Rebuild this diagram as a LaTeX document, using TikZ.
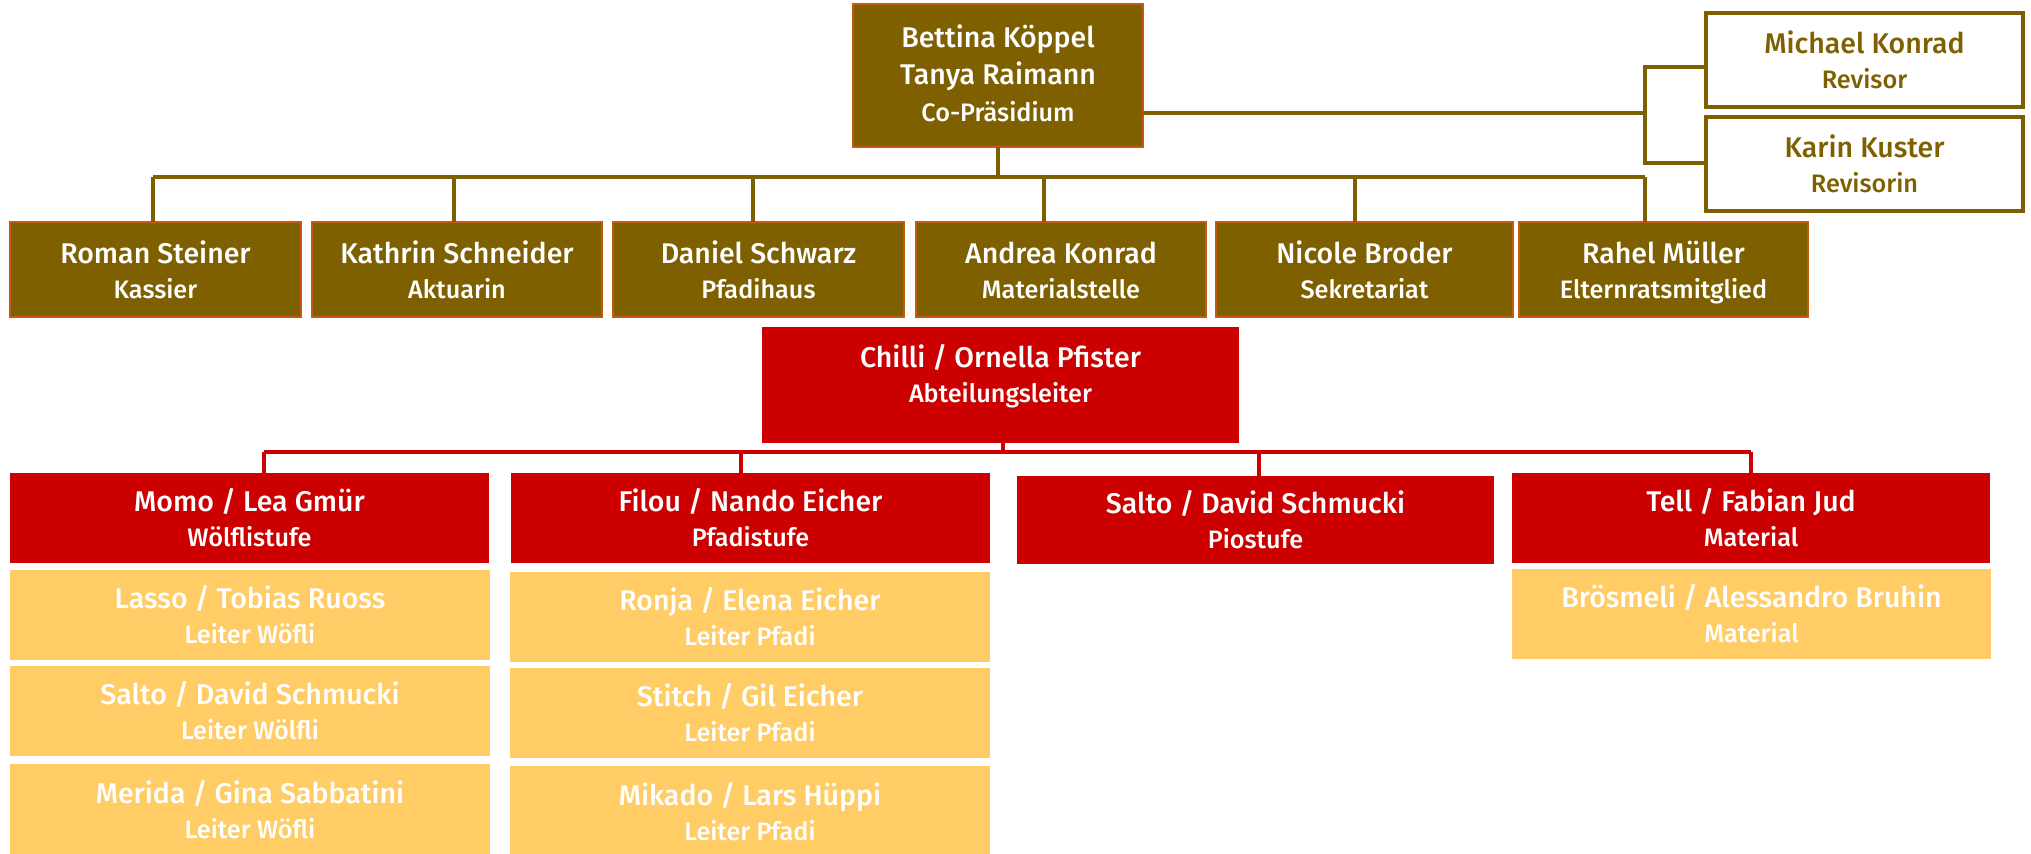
\documentclass[tikz,border=0pt]{standalone}
\usepackage{fontspec}
\setmainfont{Fira Sans}[UprightFont=* Medium]
\definecolor{brn}{HTML}{7F6000}
\definecolor{brnedge}{HTML}{C55A11}
\definecolor{rd}{HTML}{CC0000}
\definecolor{ylw}{HTML}{FFCC66}
\newcommand{\nmf}{\fontsize{11.4}{14}\selectfont}
\newcommand{\subf}{\fontsize{10.1}{14}\selectfont}
\newcommand{\ob}[7]{\node[#1,anchor=north west,minimum width={(#4-#2)*0.4pt},minimum height={(#5-#3)*0.4pt}] (#6) at (#2,#3) {#7};}
\begin{document}
\begin{tikzpicture}[x=0.4pt,y=-0.4pt,
  base/.style={inner sep=0pt,outer sep=0pt,align=center,font=\nmf,text=white,text height=25.6pt,text depth=2.6pt},
  brownbox/.style={base,fill=brn,draw=brnedge,line width=0.7pt},
  revbox/.style={base,fill=white,draw=brn,line width=1.6pt,text=brn},
  redbox/.style={base,fill=rd},
  yelbox/.style={base,fill=ylw},
  txt/.style={base},
  bline/.style={draw=brn,line width=1.5pt},
  rline/.style={draw=rd,line width=1.5pt}]
\useasboundingbox (0,0) rectangle (2031,853);
\clip (0,0) rectangle (2031,853);
% top level
\ob{brownbox,font=\fontsize{11.4}{14.8}\selectfont,text height=39pt,text depth=2.6pt}{853}{4}{1143}{147}{top}{Bettina Köppel\\Tanya Raimann\\{\subf Co-Präsidium}}
\ob{revbox}{1706}{13}{2023}{107}{rev1}{Michael Konrad\\{\subf Revisor}}
\ob{revbox}{1706}{117}{2023}{211}{rev2}{Karin Kuster\\{\subf Revisorin}}
% second row
\ob{brownbox}{10}{222}{301}{317}{roman}{Roman Steiner\\{\subf Kassier}}
\ob{brownbox}{312}{222}{602}{317}{kathrin}{Kathrin Schneider\\{\subf Aktuarin}}
\ob{brownbox}{613}{222}{904}{317}{daniel}{Daniel Schwarz\\{\subf Pfadihaus}}
\ob{brownbox}{916}{222}{1206}{317}{andrea}{Andrea Konrad\\{\subf Materialstelle}}
\ob{brownbox}{1216}{222}{1513}{317}{nicole}{Nicole Broder\\{\subf Sekretariat}}
\ob{brownbox}{1519}{222}{1808}{317}{rahel}{Rahel Müller\\{\subf Elternratsmitglied}}
% chilli
\ob{redbox}{762}{327}{1239}{443}{chilli}{}
\node[txt] (chillitxt) at (1000.5,374) {Chilli / Ornella Pfister\\{\subf Abteilungsleiter}};
% red row
\ob{redbox}{10}{473}{489}{563}{momo}{Momo / Lea Gmür\\{\subf Wölflistufe}}
\ob{redbox}{511}{473}{990}{563}{filou}{Filou / Nando Eicher\\{\subf Pfadistufe}}
\ob{redbox}{1017}{476}{1494}{564}{salto}{Salto / David Schmucki\\{\subf Piostufe}}
\ob{redbox}{1512}{473}{1990}{563}{tell}{Tell / Fabian Jud\\{\subf Material}}
% yellow
\ob{yelbox}{10}{570}{490}{660}{lasso}{Lasso / Tobias Ruoss\\{\subf Leiter Wöfli}}
\ob{yelbox}{10}{666}{490}{756}{saltow}{Salto / David Schmucki\\{\subf Leiter Wölfli}}
\ob{yelbox}{10}{764}{490}{856}{merida}{Merida / Gina Sabbatini\\{\subf Leiter Wöfli}}
\ob{yelbox}{510}{572}{990}{662}{ronja}{Ronja / Elena Eicher\\{\subf Leiter Pfadi}}
\ob{yelbox}{510}{668}{990}{758}{stitch}{Stitch / Gil Eicher\\{\subf Leiter Pfadi}}
\ob{yelbox}{510}{766}{990}{858}{mikado}{Mikado / Lars Hüppi\\{\subf Leiter Pfadi}}
\ob{yelbox}{1512}{569}{1991}{659}{broesmeli}{Brösmeli / Alessandro Bruhin\\{\subf Material}}
% brown connectors
\coordinate (bt) at (998,177);
\coordinate (bl) at (153,177);
\coordinate (br) at (1645,177);
\coordinate (dK) at (454,177);
\coordinate (dD) at (753,177);
\coordinate (dA) at (1044,177);
\coordinate (dN) at (1355,177);
\draw[bline] (top.south) -- (bt);
\draw[bline] (bl) -- (br);
\draw[bline] (bl) -- (bl |- roman.north);
\draw[bline] (dK) -- (dK |- kathrin.north);
\draw[bline] (dD) -- (dD |- daniel.north);
\draw[bline] (dA) -- (dA |- andrea.north);
\draw[bline] (dN) -- (dN |- nicole.north);
\draw[bline] (br) -- (br |- rahel.north);
% revisor connectors
\coordinate (rv) at (1645,113);
\coordinate (rv1) at (1645,67);
\coordinate (rv2) at (1645,163);
\draw[bline] (top.east |- rv) -- (rv);
\draw[bline] (rev1.west |- rv1) -- (rv1) -- (rv2) -- (rev2.west |- rv2);
% red connectors
\coordinate (rt) at (1003,452);
\coordinate (rl) at (264,452);
\coordinate (rr) at (1751,452);
\coordinate (rF) at (741,452);
\coordinate (rS) at (1259,452);
\draw[rline] (rt |- chilli.south) -- (rt);
\draw[rline] (rl) -- (rr);
\draw[rline] (rl) -- (rl |- momo.north);
\draw[rline] (rF) -- (rF |- filou.north);
\draw[rline] (rS) -- (rS |- salto.north);
\draw[rline] (rr) -- (rr |- tell.north);
\end{tikzpicture}
\end{document}
